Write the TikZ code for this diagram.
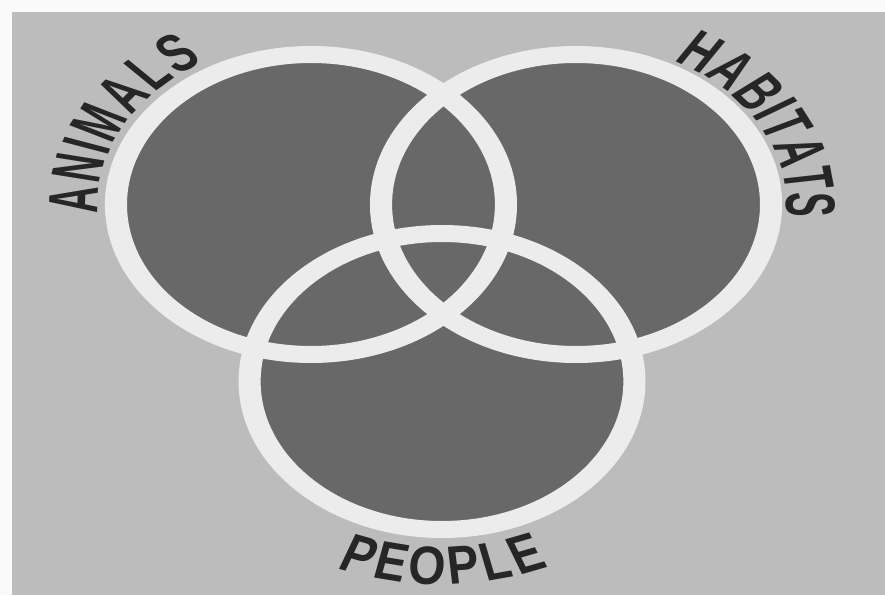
\documentclass[tikz,border=0pt]{standalone}
\usepackage{fontspec}
\newfontfamily\lblfont[FakeStretch=0.68]{Liberation Sans}
\usetikzlibrary{decorations.text}
\definecolor{pagewhite}{RGB}{250,250,250}
\definecolor{bggrey}{RGB}{188,188,188}
\definecolor{setgrey}{RGB}{104,104,104}
\definecolor{ringwhite}{RGB}{236,236,236}
\definecolor{inkgrey}{RGB}{38,38,38}
\tikzset{
  setfill/.style={fill=setgrey},
  setring/.style={draw=ringwhite, line width=17pt},
  arclabel/.style={decorate, decoration={text along path, text align={fit to path}, text color=inkgrey,
     text={|\lblfont\bfseries\fontsize{54}{54}\selectfont|#1}}}
}
\begin{document}
\begin{tikzpicture}[x=1pt,y=1pt]
\useasboundingbox (0,0) rectangle (885,595);
\fill[pagewhite] (0,0) rectangle (885,595);
\fill[bggrey] (12,0) rectangle (885,583);
\begin{scope}[transform canvas={xscale=1.3}]
  \coordinate (animals) at (239.2,390.5);
  \coordinate (habitats) at (443.1,390.5);
  \coordinate (people) at (340,213.5);
  \fill[setfill] (animals) circle[radius=150];
  \fill[setfill] (habitats) circle[radius=150];
  \fill[setfill] (people) circle[radius=148];
  \draw[setring] (animals) circle[radius=150];
  \draw[setring] (habitats) circle[radius=150];
  \draw[setring] (people) circle[radius=148];
  \path[arclabel=ANIMALS] ([shift={(183:164)}]animals) arc[start angle=183, end angle=120, radius=164];
  \path[arclabel=HABITATS] ([shift={(62.4:162)}]habitats) arc[start angle=62.4, end angle=-4.5, radius=162];
  \path[arclabel=PEOPLE] ([shift={(246.5:203)}]people) arc[start angle=246.5, end angle=294, radius=203];
\end{scope}
\end{tikzpicture}
\end{document}
